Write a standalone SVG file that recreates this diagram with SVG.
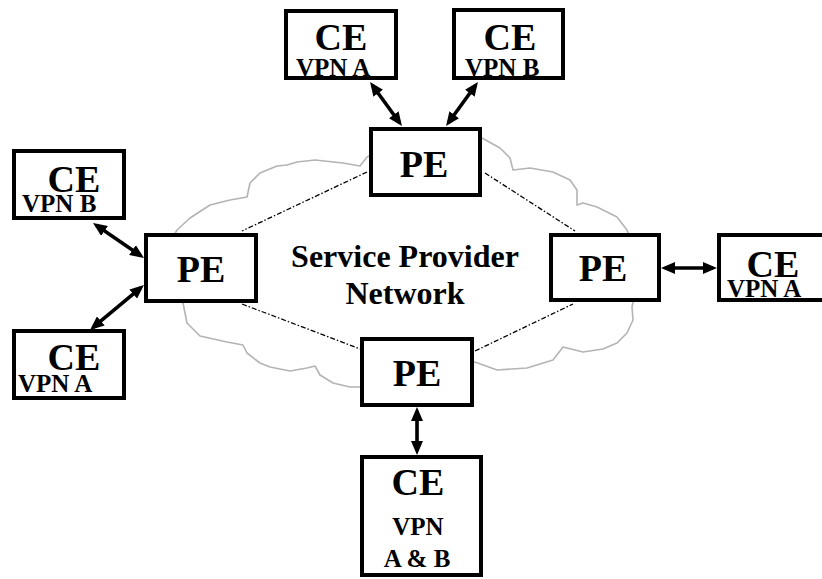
<svg xmlns="http://www.w3.org/2000/svg" width="822" height="579" viewBox="0 0 822 579">
<style>
.box{fill:#fff;stroke:#000;stroke-width:4}
.t{font-family:"Liberation Serif","Times New Roman",serif;font-weight:bold;fill:#000}
.big{font-size:38px;text-anchor:middle}
.sm{font-size:25px}
.mid{font-size:32px;text-anchor:middle}
.arr{stroke:#000;stroke-width:3.6;fill:none;marker-start:url(#ah);marker-end:url(#ah)}
.dash{stroke:#000;stroke-width:1.3;fill:none;stroke-dasharray:5 2 1.5 2}
.cloud{fill:#fff;stroke:#b4b4b4;stroke-width:1.6;stroke-linejoin:round}
</style>
<defs>
<marker id="ah" viewBox="0 0 14 12" refX="10" refY="6" markerWidth="14" markerHeight="12" orient="auto-start-reverse" markerUnits="userSpaceOnUse">
<path d="M0,0 L14,6 L0,12 z" fill="#000"/>
</marker>
</defs>
<rect width="822" height="579" fill="#fff"/>
<g id="cloud">
<path class="cloud" d="M367,157 L360,166 L343,163 L315,160 L297,162 L287,165 L277,166 L260,173 L250,183 L247,197 L230,200 L210,205 L190,218 L177,230 L160,260 L183,303 L187,323 L200,336 L227,342 L243,345 L247,353 L260,363 L270,367 L290,371 L307,368 L315,366 L320,375 L333,383 L350,387 L365,387 L420,390 L475,362 L497,370 L527,368 L553,360 L563,347 L583,352 L603,349 L617,343 L627,333 L633,320 L632,307 L640,270 L627,230 L617,217 L597,207 L583,203 L577,205 L577,190 L570,180 L553,172 L530,168 L513,170 L510,158 L500,148 L482,138 L425,130 Z"/>
</g>
<g id="connectors">
<line class="dash" x1="367" y1="172" x2="242" y2="231"/>
<line class="dash" x1="242" y1="304" x2="360" y2="349"/>
<line class="dash" x1="475" y1="351" x2="573" y2="304"/>
<line class="dash" x1="485" y1="173" x2="575" y2="231"/>
<line class="arr" x1="372.4" y1="85.2" x2="399.6" y2="122.8"/>
<line class="arr" x1="475.6" y1="85.2" x2="448.4" y2="122.8"/>
<line class="arr" x1="96.3" y1="225.3" x2="140.7" y2="255.7"/>
<line class="arr" x1="140.9" y1="287.6" x2="93.1" y2="327.4"/>
<line class="arr" x1="665" y1="268" x2="713" y2="268"/>
<line class="arr" x1="417" y1="411" x2="417" y2="451"/>
</g>
<g id="label">
<text class="t mid" x="405" y="267">Service Provider</text>
<text class="t mid" x="405" y="304">Network</text>
</g>
<g id="ce_top_a">
<rect class="box" x="286" y="11" width="110" height="67"/>
<text class="t big" x="341" y="50">CE</text>
<text class="t sm" x="296" y="76">VPN A</text>
</g>
<g id="ce_top_b">
<rect class="box" x="454" y="10" width="109" height="68"/>
<text class="t big" x="510" y="50">CE</text>
<text class="t sm" x="465" y="76">VPN B</text>
</g>
<g id="pe_top">
<rect class="box" x="371" y="129" width="109" height="66"/>
<text class="t big" x="424" y="177">PE</text>
</g>
<g id="ce_left_b">
<rect class="box" x="14" y="151" width="110" height="67"/>
<text class="t big" x="74" y="192">CE</text>
<text class="t sm" x="22" y="212">VPN B</text>
</g>
<g id="pe_left">
<rect class="box" x="146" y="235" width="110" height="66"/>
<text class="t big" x="201" y="282">PE</text>
</g>
<g id="ce_left_a">
<rect class="box" x="14" y="331" width="110" height="67"/>
<text class="t big" x="74" y="370">CE</text>
<text class="t sm" x="18" y="392">VPN A</text>
</g>
<g id="pe_right">
<rect class="box" x="551" y="235" width="108" height="65"/>
<text class="t big" x="603" y="281">PE</text>
</g>
<g id="ce_right">
<rect class="box" x="719" y="235" width="112" height="65"/>
<text class="t big" x="773" y="277">CE</text>
<text class="t sm" x="727" y="297">VPN A</text>
</g>
<g id="pe_bottom">
<rect class="box" x="362" y="339" width="110" height="66"/>
<text class="t big" x="417" y="386">PE</text>
</g>
<g id="ce_bottom">
<rect class="box" x="362" y="457" width="119" height="118"/>
<text class="t big" x="418" y="495">CE</text>
<text class="t sm" x="418" y="535" text-anchor="middle">VPN</text>
<text class="t sm" x="417" y="567" text-anchor="middle">A &amp; B</text>
</g>
</svg>
